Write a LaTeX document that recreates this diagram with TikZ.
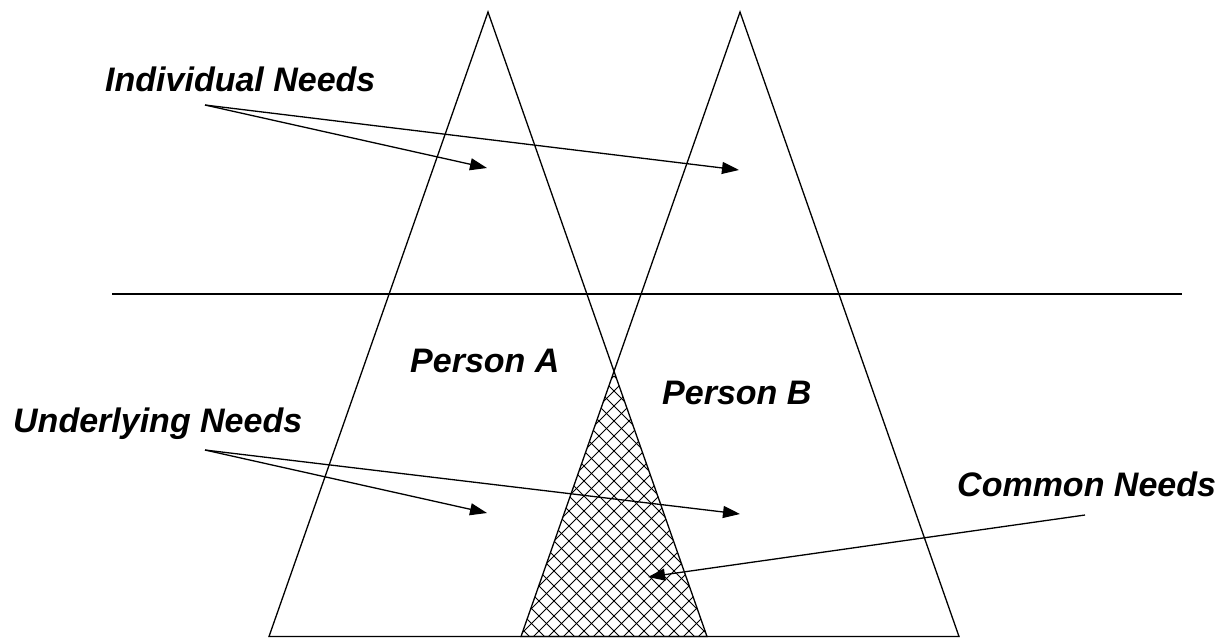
\documentclass[tikz,border=0pt]{standalone}
\usepackage{fontspec}
\setmainfont{Liberation Sans}
\usetikzlibrary{arrows.meta}
\begin{document}
\begin{tikzpicture}[x=1pt,y=-1pt,
  lbl/.style={font=\fontsize{34}{40}\selectfont\bfseries\itshape, inner sep=0pt, anchor=base west},
  ln/.style={line width=1.3pt, black},
  hatch/.style={line width=1pt, black},
  arr/.style={ln, -{Triangle[length=17pt,width=12pt]}}]
\useasboundingbox (0,0) rectangle (1222,638);
% triangle corners
\coordinate (Atop) at (488,12);
\coordinate (Al) at (269,636.5);
\coordinate (Ar) at (707,636.5);
\coordinate (Btop) at (740,12);
\coordinate (Bl) at (521,636.5);
\coordinate (Br) at (959,636.5);
\coordinate (X) at (614,372);
% cross-hatched common region
\begin{scope}
  \clip (X) -- (Bl) -- (Ar) -- cycle;
  \foreach \i in {-30,...,30} {
    \draw[hatch] (614+\i*15,376) -- ++(300,300);
    \draw[hatch] (614+\i*15,376) -- ++(-300,300);
  }
\end{scope}
% triangles
\draw[ln, line join=miter] (Atop) -- (Al) -- (Ar) -- cycle;
\draw[ln, line join=miter] (Btop) -- (Bl) -- (Br) -- cycle;
% horizontal line
\coordinate (hl) at (112,294);
\coordinate (hr) at (1182,294);
\draw[ln] (hl) -- (hr);
% labels
\node[lbl] (ind) at (105,91) {Individual Needs};
\node[lbl] (und) at (13,432) {Underlying Needs};
\node[lbl] (pa) at (410,372) {Person A};
\node[lbl] (pb) at (662,404) {Person B};
\node[lbl] (com) at (957,496) {Common Needs};
% arrow points
\coordinate (in0) at (205,105);
\coordinate (iA) at (487,168);
\coordinate (iB) at (739,170);
\coordinate (un0) at (205,450);
\coordinate (uA) at (487,513);
\coordinate (uB) at (740,514);
\coordinate (cn0) at (1085,515);
\coordinate (cT) at (648,577);
\draw[arr] (in0) -- (iA);
\draw[arr] (in0) -- (iB);
\draw[arr] (un0) -- (uA);
\draw[arr] (un0) -- (uB);
\draw[arr] (cn0) -- (cT);
\end{tikzpicture}
\end{document}
